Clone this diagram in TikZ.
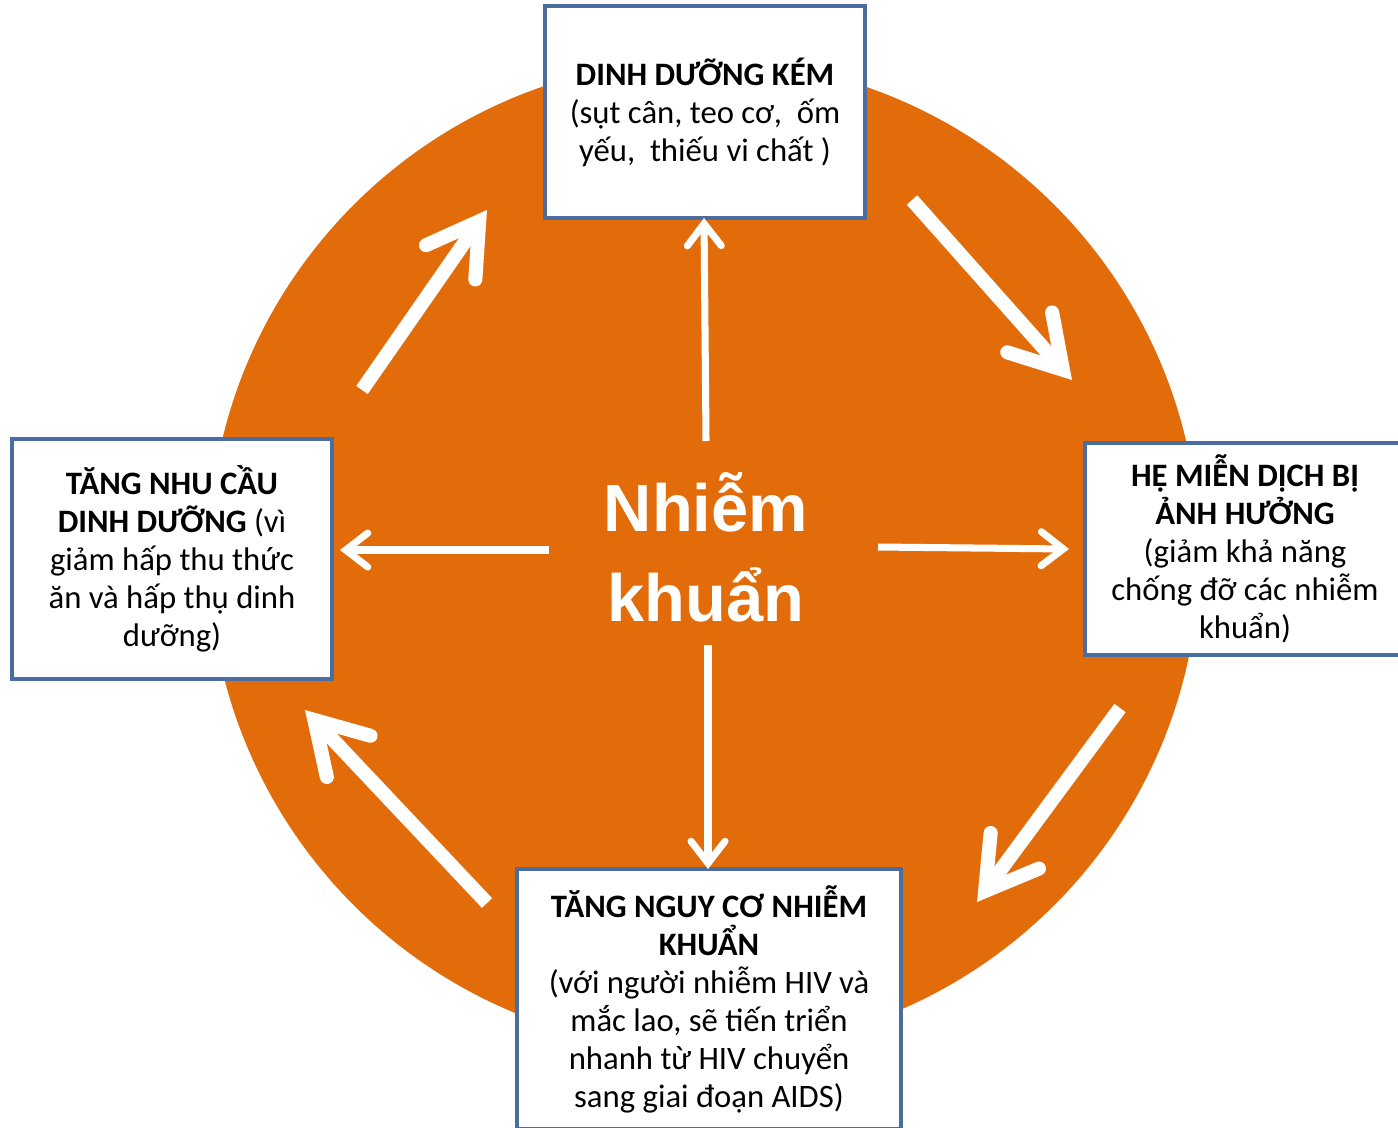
\documentclass[tikz,border=0pt]{standalone}
\usepackage{fontspec}
\setmainfont{Carlito}
\newfontfamily\arialfont{Liberation Sans}
\usetikzlibrary{arrows.meta}

\definecolor{ring}{HTML}{E36C0A}
\definecolor{frame}{HTML}{4A6C9E}

\begin{document}
\begin{tikzpicture}[
x = 0.01cm, y = -0.01cm, % one unit = one pixel of the page
bigarrow/.style = {white, line width = 4pt,
  -{Straight Barb[length = 5mm, width = 6mm, line cap = round]}},
smallarrow/.style = {white, line width = 2pt,
  -{Straight Barb[length = 2.2mm, width = 3.4mm, line cap = round]}}
]
\tikzstyle{factor}=[
draw = frame,
line width = 1pt,
fill = white,
align = center,
inner sep = 0pt,
font = \fontsize{9.3}{10.8}\selectfont
]
\clip (0,0) rectangle (1398,1127);
\fill[ring] (704,555) circle (4.95cm);

% the four consequences
\node[factor, minimum width = 3.2cm, minimum height = 2.12cm] (malnut) at (705,112)
  {\textbf{DINH DƯỠNG KÉM}\\(sụt cân, teo cơ,~ ốm\\yếu,~ thiếu vi chất )};
\node[factor, minimum width = 3.2cm, minimum height = 2.12cm] (immune) at (1245,549)
  {\textbf{HỆ MIỄN DỊCH BỊ}\\\textbf{ẢNH HƯỞNG}\\(giảm khả năng\\chống đỡ các nhiễm\\khuẩn)};
\node[factor, minimum width = 3.84cm, minimum height = 2.6cm] (risk) at (709,999)
  {\textbf{TĂNG NGUY CƠ NHIỄM}\\\textbf{KHUẨN}\\(với người nhiễm HIV và\\mắc lao, sẽ tiến triển\\nhanh từ HIV chuyển\\sang giai đoạn AIDS)};
\node[factor, minimum width = 3.2cm, minimum height = 2.4cm] (demand) at (172,559)
  {\textbf{TĂNG NHU CẦU}\\\textbf{DINH DƯỠNG} (vì\\giảm hấp thu thức\\ăn và hấp thụ dinh\\dưỡng)};

% infection in the middle
\node[white, align = center, font = \arialfont\bfseries\fontsize{19}{25.5}\selectfont] (infect) at (706,547)
  {Nhiễm\\khuẩn};

% arrows from the middle
\coordinate (upS) at (706,441);
\coordinate (upE) at (704,218);
\coordinate (ltS) at (549,550);
\coordinate (ltE) at (340,550);
\coordinate (rtS) at (878,547);
\coordinate (rtE) at (1069,549);
\coordinate (dnS) at (708,645);
\coordinate (dnE) at (708,869);
\draw[smallarrow] (upS) -- (upE);
\draw[smallarrow] (ltS) -- (ltE);
\draw[smallarrow] (rtS) -- (rtE);
\draw[smallarrow] (dnS) -- (dnE);

% the cycle around
\coordinate (c1S) at (362,390);
\coordinate (c1E) at (487,210);
\coordinate (c2S) at (912,200);
\coordinate (c2E) at (1072,380);
\coordinate (c3S) at (1120,708);
\coordinate (c3E) at (977,902);
\coordinate (c4S) at (487,903);
\coordinate (c4E) at (305,710);
\draw[bigarrow] (c1S) -- (c1E);
\draw[bigarrow] (c2S) -- (c2E);
\draw[bigarrow] (c3S) -- (c3E);
\draw[bigarrow] (c4S) -- (c4E);
\end{tikzpicture}
\end{document}
